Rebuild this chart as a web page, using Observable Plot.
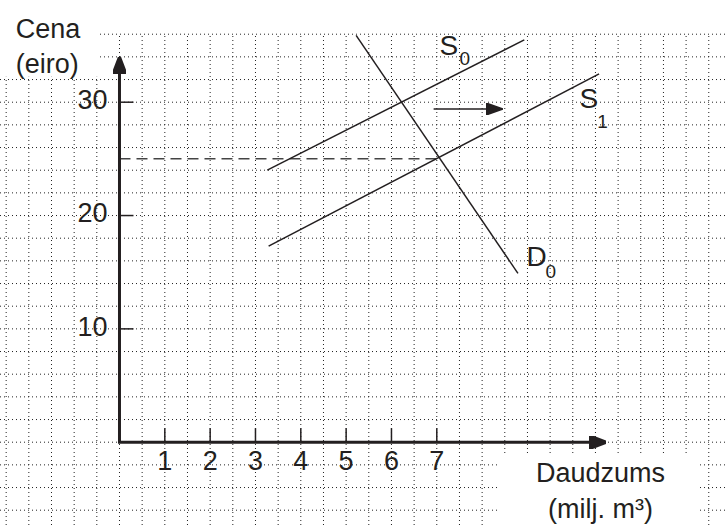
<!DOCTYPE html>
<html><head><meta charset="utf-8">
<script src="https://cdn.jsdelivr.net/npm/d3@7"></script>
<script src="https://cdn.jsdelivr.net/npm/@observablehq/plot@0.6"></script>
<style>html,body{margin:0;padding:0;background:#fff} svg{display:block}</style>
</head><body><div id="chart"></div>
<script>
// ---- data ----
const xTicks = [1, 2, 3, 4, 5, 6, 7];          // Daudzums (milj. m³)
const yTicks = [10, 20, 30];                   // Cena (eiro)
const curveNames = ["S0", "S1", "D0"];
const curveQ1 = [3.26, 3.29, 5.22];
const curveP1 = [24.0, 17.3, 35.9];
const curveQ2 = [8.93, 10.58, 8.79];
const curveP2 = [35.5, 32.5, 14.9];
const eqQ = 7, eqP = 25;                       // new equilibrium (dashed)
const shiftQ = [6.93, 8.46], shiftP = 29.4;    // shift arrow S0 -> S1
const yAxisTop = 34, xAxisEnd = 10.74;
const labelLetters = ["S", "S", "D"];
const labelSubs = ["0", "1", "0"];
const labelQ = [7.06, 10.15, 8.98];
const labelP = [35.9, 31.2, 17.3];
const subQ = [7.50, 10.54, 9.40];
const subP = [34.5, 28.9, 15.7];
const yTitle = "Cena\n(eiro)";
const xTitle = "Daudzums\n(milj. m³)";
const yTitleQ = -2.29, yTitleP = 37.83;
const xTitleQ = 10.61, xTitleP = -1.35;

// ---- layout ----
const W = 725, H = 525;
const xDomain = [-2.625, 13.369], yDomain = [-7.35, 38.974];
const kx = W / (xDomain[1] - xDomain[0]);   // px per unit
const ky = H / (yDomain[1] - yDomain[0]);
const ink = "#231f20";
const font = "'Liberation Sans', Arial, Helvetica, sans-serif";

const curves = curveNames.map((n, i) => ({name: n, q1: curveQ1[i], p1: curveP1[i], q2: curveQ2[i], p2: curveP2[i]}));
const labels = labelLetters.map((l, i) => ({l, s: labelSubs[i], q: labelQ[i], p: labelP[i], sq: subQ[i], sp: subP[i]}));

const gridQ = d3.range(-2.5, 13.01, 0.5);
const gridP = d3.range(-6, 36.01, 2);

function head(len, wid, overlap) {
  return (color, context) => {
    const doc = context.document, ns = "http://www.w3.org/2000/svg";
    const m = doc.createElementNS(ns, "marker");
    m.setAttribute("viewBox", `0 ${-wid / 2} ${len} ${wid}`);
    m.setAttribute("markerWidth", len);
    m.setAttribute("markerHeight", wid);
    m.setAttribute("markerUnits", "userSpaceOnUse");
    m.setAttribute("refX", overlap);
    m.setAttribute("refY", 0);
    m.setAttribute("orient", "auto");
    const p = doc.createElementNS(ns, "path");
    p.setAttribute("d", `M0,${-wid / 2}L${len},0L0,${wid / 2}Z`);
    p.setAttribute("fill", color);
    m.appendChild(p);
    return m;
  };
}
const axisHead = head(17, 13, 5);      // tip 12px beyond line end
const shiftHead = head(17, 12, 5);

const chart = Plot.plot({
  width: W, height: H, margin: 0,
  x: {domain: xDomain, axis: null},
  y: {domain: yDomain, axis: null},
  style: {fontFamily: font, background: "#fff", color: ink},
  marks: [
    // dotted grid
    Plot.ruleX(gridQ, {y1: yDomain[0], y2: 36, stroke: "#222", strokeWidth: 1, strokeDasharray: "1,3"}),
    Plot.ruleY(gridP, {x1: xDomain[0], x2: xDomain[1], stroke: "#222", strokeWidth: 1, strokeDasharray: "1,3"}),
    // white boxes behind axis titles
    Plot.rect([0], {x1: xDomain[0], x2: -0.44, y1: 32.2, y2: yDomain[1], fill: "#fff"}),
    Plot.rect([0], {x1: 8.38, x2: 12.8, y1: yDomain[0], y2: -1.0, fill: "#fff"}),
    // dashed equilibrium price
    Plot.link([0], {x1: 0, x2: eqQ, y1: eqP, y2: eqP, stroke: "#444", strokeWidth: 1.5, strokeDasharray: "11,6"}),
    // curves
    Plot.link(curves, {x1: "q1", y1: "p1", x2: "q2", y2: "p2", stroke: ink, strokeWidth: 1.5}),
    // shift arrow
    Plot.link([0], {x1: shiftQ[0], x2: shiftQ[1] - 12 / kx, y1: shiftP, y2: shiftP, stroke: ink, strokeWidth: 1.5, markerEnd: shiftHead}),
    // ticks
    Plot.link(xTicks, {x1: d => d, x2: d => d, y1: 0, y2: 14 / ky, stroke: ink, strokeWidth: 1.5}),
    Plot.link(yTicks, {x1: 0, x2: 14 / kx, y1: d => d, y2: d => d, stroke: ink, strokeWidth: 1.5}),
    // axes
    Plot.link([0], {x1: 0, x2: 0, y1: 0, y2: yAxisTop - 12 / ky, stroke: ink, strokeWidth: 3, markerEnd: axisHead}),
    Plot.link([0], {x1: -1.5 / kx, x2: xAxisEnd - 12 / kx, y1: 0, y2: 0, stroke: ink, strokeWidth: 3, markerEnd: axisHead}),
    // tick labels
    Plot.text(xTicks, {x: d => d, y: 0, dy: 19, text: d => String(d), fontSize: 27, fill: ink}),
    Plot.text(yTicks, {x: 0, y: d => d, dx: -12, dy: -2, text: d => String(d), textAnchor: "end", fontSize: 27, fill: ink}),
    // axis titles
    Plot.text([yTitle], {x: yTitleQ, y: yTitleP, text: d => d, textAnchor: "start", lineAnchor: "top", lineHeight: 1.3, fontSize: 27, fill: ink}),
    Plot.text([xTitle], {x: xTitleQ, y: xTitleP, text: d => d, textAnchor: "middle", lineAnchor: "top", lineHeight: 1.3, fontSize: 27, fill: ink}),
    // curve labels
    Plot.text(labels, {x: "q", y: "p", text: "l", textAnchor: "start", lineAnchor: "top", fontSize: 28, fill: ink}),
    Plot.text(labels, {x: "sq", y: "sp", text: "s", textAnchor: "start", lineAnchor: "top", fontSize: 19, fill: ink})
  ]
});
document.getElementById("chart").appendChild(chart);
</script>
</body></html>
